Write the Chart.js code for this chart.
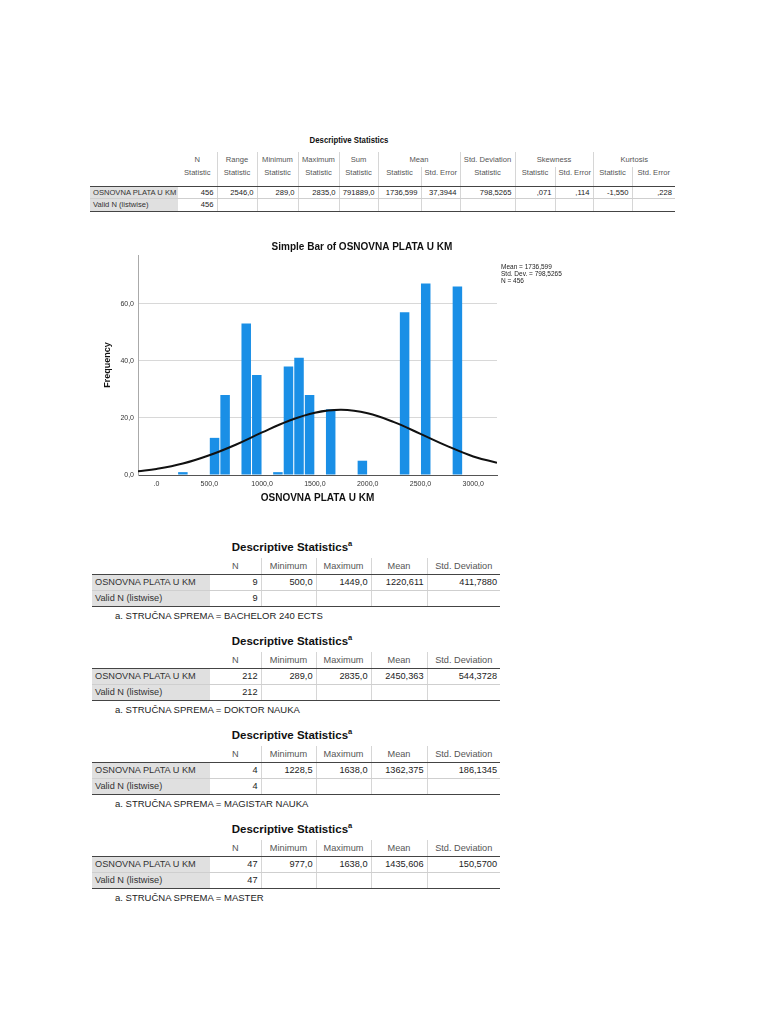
<!DOCTYPE html>
<html>
<head>
<meta charset="utf-8">
<script src="https://cdn.jsdelivr.net/npm/chart.js@4.4.0/dist/chart.umd.min.js"></script>
<style>
body { margin: 0; background: #fff; font-family: "Liberation Sans", Arial, sans-serif; color: #333; }
.page { position: relative; width: 768px; height: 1024px; overflow: hidden; background: #fff; }
.ttl { position: absolute; font-weight: bold; color: #111; white-space: nowrap; transform: translate(-50%, -50%); }
.ttl sup { font-size: 65%; vertical-align: 55%; }
table { position: absolute; border-collapse: collapse; table-layout: fixed; }
td { padding: 0 3px; white-space: nowrap; overflow: hidden; color: #222; }
td.lab { background: #e0e0e0; color: #333; text-align: left; }
td.hd { text-align: center; color: #555; border-left: 1px solid #d6d6d6; }
td.v { text-align: right; border-left: 1px solid #d6d6d6; }
tr.last td { border-bottom: 1.5px solid #444; }
tr.mid td { border-bottom: 1px solid #cfcfcf; }
tr.head td { border-bottom: 1.5px solid #444; }
.note { position: absolute; font-size: 9.5px; color: #222; white-space: nowrap; }
#wrap { position: absolute; left: 100px; top: 238px; width: 524px; height: 275px; }
</style>
</head>
<body>
<div class="page" id="page">
  <div class="ttl" style="left:349px;top:139px;font-size:9.5px;transform:translate(-50%,-50%) scaleX(0.82);">Descriptive Statistics</div>
  <table id="big" style="left:90px;top:152px;width:585px;font-size:7.6px;">
    <colgroup>
      <col style="width:88px"><col style="width:39px"><col style="width:40px"><col style="width:41px">
      <col style="width:41px"><col style="width:39px"><col style="width:43px"><col style="width:39px">
      <col style="width:55px"><col style="width:40px"><col style="width:38px"><col style="width:39px"><col style="width:43px">
    </colgroup>
    <tr style="height:15px">
      <td></td><td class="hd" style="border-left:none">N</td><td class="hd">Range</td><td class="hd">Minimum</td>
      <td class="hd">Maximum</td><td class="hd">Sum</td><td class="hd" colspan="2">Mean</td>
      <td class="hd">Std. Deviation</td><td class="hd" colspan="2">Skewness</td><td class="hd" colspan="2">Kurtosis</td>
    </tr>
    <tr class="head" style="height:19px">
      <td style="vertical-align:top"></td>
      <td class="hd" style="border-left:none;vertical-align:top;padding-top:1px">Statistic</td>
      <td class="hd" style="vertical-align:top;padding-top:1px">Statistic</td>
      <td class="hd" style="vertical-align:top;padding-top:1px">Statistic</td>
      <td class="hd" style="vertical-align:top;padding-top:1px">Statistic</td>
      <td class="hd" style="vertical-align:top;padding-top:1px">Statistic</td>
      <td class="hd" style="vertical-align:top;padding-top:1px">Statistic</td>
      <td class="hd" style="vertical-align:top;padding-top:1px">Std. Error</td>
      <td class="hd" style="vertical-align:top;padding-top:1px">Statistic</td>
      <td class="hd" style="vertical-align:top;padding-top:1px">Statistic</td>
      <td class="hd" style="vertical-align:top;padding-top:1px">Std. Error</td>
      <td class="hd" style="vertical-align:top;padding-top:1px">Statistic</td>
      <td class="hd" style="vertical-align:top;padding-top:1px">Std. Error</td>
    </tr>
    <tr class="mid" style="height:12px">
      <td class="lab">OSNOVNA PLATA U KM</td><td class="v" style="border-left:none">456</td><td class="v">2546,0</td>
      <td class="v">289,0</td><td class="v">2835,0</td><td class="v">791889,0</td><td class="v">1736,599</td>
      <td class="v">37,3944</td><td class="v">798,5265</td><td class="v">,071</td><td class="v">,114</td>
      <td class="v">-1,550</td><td class="v">,228</td>
    </tr>
    <tr class="last" style="height:13px">
      <td class="lab">Valid N (listwise)</td><td class="v" style="border-left:none">456</td><td class="v"></td>
      <td class="v"></td><td class="v"></td><td class="v"></td><td class="v"></td><td class="v"></td>
      <td class="v"></td><td class="v"></td><td class="v"></td><td class="v"></td><td class="v"></td>
    </tr>
  </table>

  <div id="wrap"><canvas id="myChart"></canvas></div>
</div>

<script>
// histogram bins (centre of 100 KM bin) and frequencies
var binCenters = [250, 550, 650, 850, 950, 1150, 1250, 1350, 1450, 1650, 1950, 2350, 2550, 2850];
var frequencies = [1, 13, 28, 53, 35, 1, 38, 41, 28, 23, 5, 57, 67, 66];

// normal curve
var curveX = [-175, 0, 250, 500, 750, 1000, 1250, 1500, 1750, 2000, 2250, 2500, 2750, 3000, 3225];
var curveY = [1.3, 2.1, 4.0, 6.9, 10.6, 14.9, 18.9, 21.8, 22.8, 21.6, 18.5, 14.4, 10.2, 6.5, 4.3];

var xTicks = [0, 500, 1000, 1500, 2000, 2500, 3000];
var yTicks = [0, 20, 40, 60];
var statLines = ["Mean = 1736,599", "Std. Dev. = 798,5265", "N = 456"];

var xAchse_Name = "OSNOVNA PLATA U KM";
var yAchse_Name = "Frequency";

// small tables per STRUČNA SPREMA
var groupTops = [546, 640, 734, 828];
var groupNames = ["BACHELOR 240 ECTS", "DOKTOR NAUKA", "MAGISTAR NAUKA", "MASTER"];
var groupN = ["9", "212", "4", "47"];
var groupMin = ["500,0", "289,0", "1228,5", "977,0"];
var groupMax = ["1449,0", "2835,0", "1638,0", "1638,0"];
var groupMean = ["1220,611", "2450,363", "1362,375", "1435,606"];
var groupSD = ["411,7880", "544,3728", "186,1345", "150,5700"];

var page = document.getElementById("page");
for (var i = 0; i < groupTops.length; i++) {
  var T = groupTops[i];
  var t = document.createElement("div");
  t.className = "ttl";
  t.style.left = "292px";
  t.style.top = T + "px";
  t.style.fontSize = "11.5px";
  t.innerHTML = "Descriptive Statistics<sup>a</sup>";
  page.appendChild(t);

  var tb = document.createElement("table");
  tb.style.left = "92px";
  tb.style.top = (T + 12) + "px";
  tb.style.width = "408px";
  tb.style.fontSize = "9.2px";
  tb.innerHTML =
    '<colgroup><col style="width:118px"><col style="width:51px"><col style="width:55px">' +
    '<col style="width:55px"><col style="width:56px"><col style="width:73px"></colgroup>' +
    '<tr class="head" style="height:16px"><td></td><td class="hd" style="border-left:none">N</td>' +
    '<td class="hd">Minimum</td><td class="hd">Maximum</td><td class="hd">Mean</td><td class="hd">Std. Deviation</td></tr>' +
    '<tr class="mid" style="height:16px"><td class="lab">OSNOVNA PLATA U KM</td>' +
    '<td class="v" style="border-left:none">' + groupN[i] + '</td><td class="v">' + groupMin[i] + '</td>' +
    '<td class="v">' + groupMax[i] + '</td><td class="v">' + groupMean[i] + '</td><td class="v">' + groupSD[i] + '</td></tr>' +
    '<tr class="last" style="height:16px"><td class="lab">Valid N (listwise)</td>' +
    '<td class="v" style="border-left:none">' + groupN[i] + '</td><td class="v"></td><td class="v"></td><td class="v"></td><td class="v"></td></tr>';
  page.appendChild(tb);

  var n = document.createElement("div");
  n.className = "note";
  n.style.left = "115px";
  n.style.top = (T + 64) + "px";
  n.textContent = "a. STRUČNA SPREMA = " + groupNames[i];
  page.appendChild(n);
}

var barData = binCenters.map(function (x, k) { return { x: x, y: frequencies[k] }; });
var curveData = curveX.map(function (x, k) { return { x: x, y: curveY[k] }; });

function komma(v) {
  if (v === 0) return ".0";
  return v.toFixed(1).replace(".", ",");
}

var statText = {
  id: "statText",
  afterDraw: function (chart) {
    var ctx = chart.ctx;
    ctx.save();
    ctx.font = "6.5px 'Liberation Sans', Arial, sans-serif";
    ctx.fillStyle = "#222";
    ctx.textBaseline = "middle";
    for (var k = 0; k < statLines.length; k++) {
      ctx.fillText(statLines[k], chart.chartArea.right + 4, 29 + k * 7);
    }
    ctx.restore();
  },
};

new Chart("myChart", {
  type: "bar",
  data: {
    datasets: [
      {
        type: "line",
        data: curveData,
        borderColor: "#111",
        borderWidth: 2,
        pointRadius: 0,
        tension: 0.4,
        fill: false,
        order: 0,
      },
      {
        type: "bar",
        data: barData,
        backgroundColor: "#1a8fe6",
        borderWidth: 0,
        barPercentage: 0.9,
        categoryPercentage: 1,
        order: 1,
      },
    ],
  },
  plugins: [statText],
  options: {
    responsive: true,
    maintainAspectRatio: false,
    animation: false,
    layout: { padding: 0 },
    plugins: {
      legend: false,
      tooltip: { enabled: false },
      title: {
        display: true,
        text: "Simple Bar of OSNOVNA PLATA U KM",
        color: "#111",
        font: { family: "'Liberation Sans', Arial, sans-serif", size: 10, weight: "bold" },
        padding: { top: 3, bottom: 2 },
      },
    },
    scales: {
      x: {
        type: "linear",
        min: -175,
        max: 3225,
        offset: false,
        afterBuildTicks: function (s) { s.ticks = xTicks.map(function (v) { return { value: v }; }); },
        afterFit: function (s) { s.height = 38; },
        grid: { display: false, drawTicks: false, offset: false },
        border: { color: "#555", width: 1 },
        ticks: {
          padding: 5,
          maxRotation: 0,
          color: "#333",
          font: { family: "'Liberation Sans', Arial, sans-serif", size: 7 },
          callback: function (v) { return komma(v); },
        },
        title: {
          display: true,
          text: xAchse_Name,
          color: "#111",
          font: { family: "'Liberation Sans', Arial, sans-serif", size: 10, weight: "bold" },
          padding: { top: 0, bottom: 9 },
        },
      },
      y: {
        min: 0,
        max: 77,
        afterBuildTicks: function (s) { s.ticks = yTicks.map(function (v) { return { value: v }; }); },
        afterFit: function (s) { s.width = 38; },
        grid: { color: "#d8d8d8", drawTicks: false },
        border: { color: "#aaa", width: 1 },
        ticks: {
          padding: 4,
          color: "#333",
          font: { family: "'Liberation Sans', Arial, sans-serif", size: 7 },
          callback: function (v) { return komma(v).replace(/^\.0$/, "0,0"); },
        },
        title: {
          display: true,
          text: yAchse_Name,
          color: "#111",
          font: { family: "'Liberation Sans', Arial, sans-serif", size: 9, weight: "bold" },
          padding: { top: 2, bottom: 0 },
        },
      },
      rechts: {
        type: "linear",
        position: "right",
        afterFit: function (s) { s.width = 127; },
        grid: { display: false, drawTicks: false },
        border: { display: false },
        ticks: { display: false },
      },
    },
  },
});
</script>
</body>
</html>
